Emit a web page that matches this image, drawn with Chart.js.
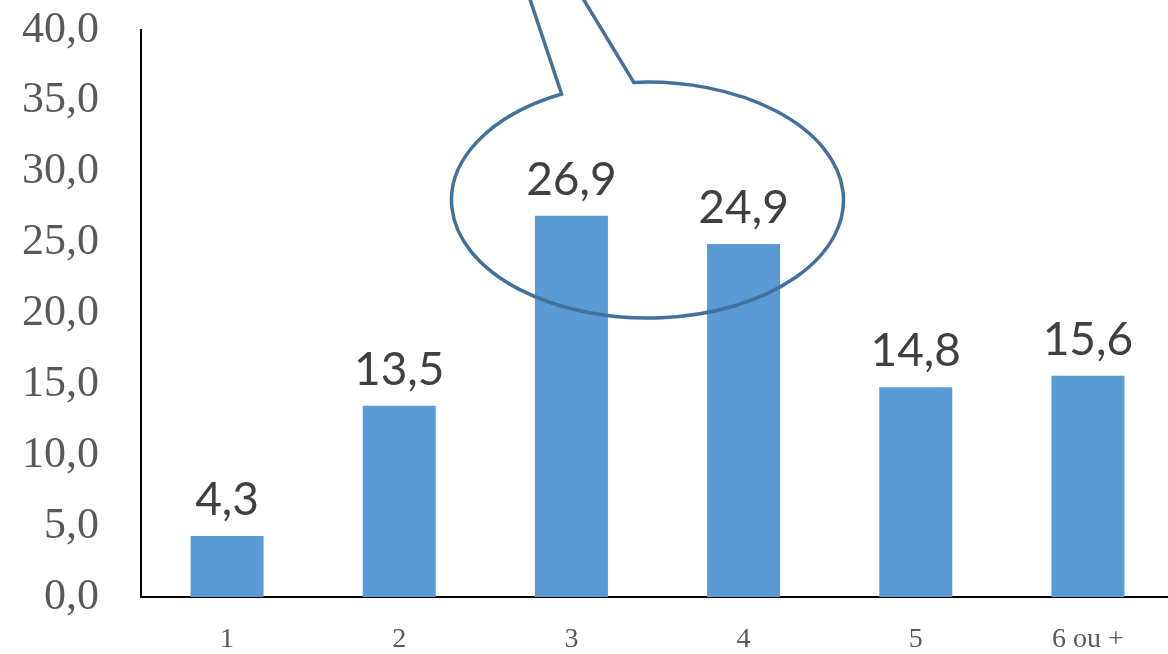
<!DOCTYPE html>
<html>
<head>
<meta charset="utf-8">
<script src="https://cdn.jsdelivr.net/npm/chart.js@4/dist/chart.umd.min.js"></script>
<style>
  html, body { margin: 0; padding: 0; background: #fff; overflow: hidden; }
  #wrap { width: 1176px; height: 654px; }
</style>
</head>
<body>
<div id="wrap"><canvas id="myChart"></canvas></div>
<script>
const categories = ["1", "2", "3", "4", "5", "6 ou +"];
const values = [4.3, 13.5, 26.9, 24.9, 14.8, 15.6];
const yTicks = [0, 5, 10, 15, 20, 25, 30, 35, 40];

const fmt = v => v.toFixed(1).replace('.', ',');

// value labels above each bar
const barLabels = {
    id: 'barLabels',
    afterDatasetsDraw(chart) {
        const ctx = chart.ctx;
        const meta = chart.getDatasetMeta(0);
        ctx.save();
        ctx.font = '46px Lato';
        ctx.fillStyle = '#404040';
        ctx.textAlign = 'center';
        ctx.textBaseline = 'alphabetic';
        meta.data.forEach((bar, i) => {
            ctx.fillText(fmt(values[i]), bar.x, bar.y - 21);
        });
        ctx.restore();
    }
};

// speech bubble around bars 3 and 4
const callout = {
    id: 'callout',
    afterDatasetsDraw(chart) {
        const ctx = chart.ctx;
        const x = chart.scales.x, y = chart.scales.y;
        const cx = x.getPixelForValue(2.5) - 10;
        const cy = y.getPixelForValue(28);
        const rx = 196, ry = 118;
        const a1 = -94 * Math.PI / 180;
        const a2 = 244 * Math.PI / 180;
        const tipX = cx - 183, tipY = cy - 397;
        ctx.save();
        ctx.strokeStyle = '#41719C';
        ctx.lineWidth = 3.5;
        ctx.lineJoin = 'miter';
        ctx.beginPath();
        ctx.moveTo(tipX, tipY);
        ctx.lineTo(cx + rx * Math.cos(a1), cy + ry * Math.sin(a1));
        ctx.ellipse(cx, cy, rx, ry, 0, a1, a2, false);
        ctx.lineTo(tipX, tipY);
        ctx.stroke();
        ctx.restore();
    }
};

let ctx = document.getElementById("myChart").getContext("2d");
let myChart = new Chart(ctx, {
    type: "bar",
    data: {
        labels: categories,
        datasets: [{
            data: values,
            backgroundColor: "#5B9BD5",
            barPercentage: 0.424,
            categoryPercentage: 1.0,
        }],
    },
    options: {
        responsive: true,
        maintainAspectRatio: false,
        animation: false,
        layout: { padding: { top: 30, right: 2, left: 0, bottom: 0 } },
        plugins: {
            legend: { display: false },
            tooltip: { enabled: false },
        },
        scales: {
            x: {
                grid: { display: false, drawTicks: false },
                border: { color: "#000", width: 2 },
                ticks: {
                    color: "#595959",
                    font: { family: "Liberation Serif", size: 28, lineHeight: 1.2 },
                    padding: 26,
                },
                afterFit(scale) {
                    scale.height = 57;
                    scale.paddingLeft = 0;
                    scale.paddingRight = 0;
                },
            },
            y: {
                min: 0,
                max: 40,
                afterBuildTicks(scale) { scale.ticks = yTicks.map(v => ({ value: v })); },
                grid: { display: false, drawTicks: false },
                border: { color: "#000", width: 2 },
                ticks: {
                    color: "#595959",
                    font: { family: "Liberation Serif", size: 44, lineHeight: 0.1 },
                    padding: 42,
                    callback: v => fmt(v),
                },
                afterFit(scale) {
                    scale.width = 141;
                    scale.paddingTop = 0;
                    scale.paddingBottom = 0;
                },
            },
        },
    },
    plugins: [barLabels, callout],
});
</script>
</body>
</html>
